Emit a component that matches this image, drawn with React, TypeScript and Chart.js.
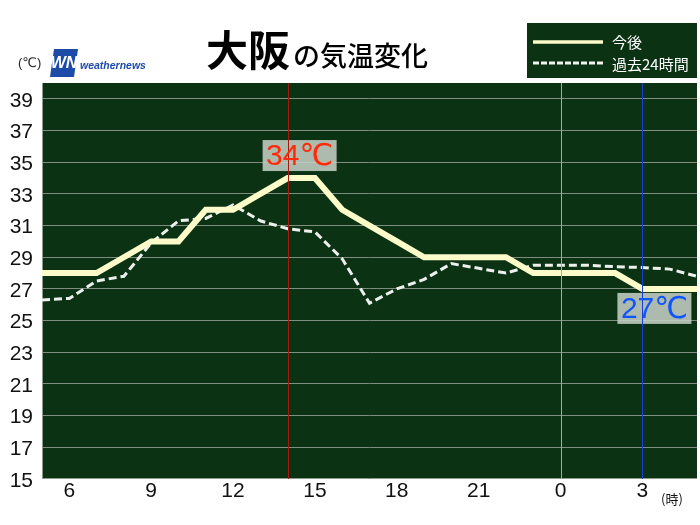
import { useEffect, useRef } from "react";
import { Chart, registerables } from "chart.js";

Chart.register(...registerables);

// ---- data ----
const hours = [5, 6, 7, 8, 9, 10, 11, 12, 13, 14, 15, 16, 17, 18, 19, 20, 21, 22, 23, 24, 25, 26, 27, 28, 29];
const forecastTemps = [28, 28, 28, 29, 30, 30, 32, 32, 33, 34, 34, 32, 31, 30, 29, 29, 29, 29, 28, 28, 28, 28, 27, 27, 27];
const pastTemps = [26.3, 26.4, 27.5, 27.8, 29.9, 31.3, 31.45, 32.3, 31.3, 30.8, 30.6, 28.9, 26.1, 27.0, 27.6, 28.6, 28.3, 28.0, 28.5, 28.5, 28.5, 28.4, 28.35, 28.25, 27.8];
const xTickHours = [6, 9, 12, 15, 18, 21, 24, 27];
const xTickLabels = ["6", "9", "12", "15", "18", "21", "0", "3"];
const yTickValues = [15, 17, 19, 21, 23, 25, 27, 29, 31, 33, 35, 37, 39];
const seriesNames = ["今後", "過去24時間"];
const cityName = "大阪";
const titleRest = "の気温変化";
const maxMark = { hour: 14, temp: 34, text: "34℃" };
const minMark = { hour: 27, temp: 27, text: "27℃" };
const zeroHour = 24;

const GREEN = "#0b3313";
const GRID = "#7f8c7f";
const CREAM = "#fdfbc9";
const LATIN = '"Liberation Sans", Arial, sans-serif';
const CJK = '"Noto Sans CJK JP", "Liberation Sans", sans-serif';
const MIXED = '"Liberation Sans", "DejaVu Sans", "Noto Sans CJK JP", sans-serif';

const decor = {
  id: "decor",
  beforeDraw(chart: any) {
    const { ctx, chartArea: a } = chart;
    ctx.save();
    ctx.fillStyle = "#ffffff";
    ctx.fillRect(0, 0, chart.width, chart.height);
    ctx.fillStyle = GREEN;
    ctx.fillRect(a.left, a.top, a.right - a.left, a.bottom - a.top);
    ctx.restore();
  },
  beforeDatasetsDraw(chart: any) {
    const { ctx, chartArea: a } = chart;
    ctx.save();
    ctx.strokeStyle = "#8d998d";
    ctx.lineWidth = 1;
    ctx.beginPath();
    ctx.moveTo(a.left + 0.5, a.top);
    ctx.lineTo(a.left + 0.5, a.bottom);
    ctx.moveTo(a.left, a.bottom - 0.5);
    ctx.lineTo(a.right, a.bottom - 0.5);
    ctx.stroke();
    ctx.restore();
  },
  afterDatasetsDraw(chart: any) {
    const { ctx, chartArea: a, scales } = chart;
    const xs = scales.x;
    const ys = scales.y;
    const bw = 74;
    const bh = 31;
    const mx = xs.getPixelForValue(maxMark.hour) - 25;
    const my = ys.getPixelForValue(maxMark.temp) - 7 - bh;
    const nx = xs.getPixelForValue(minMark.hour) - 25;
    const ny = ys.getPixelForValue(minMark.temp) + 4;
    ctx.save();
    ctx.fillStyle = "rgba(200,208,200,0.86)";
    ctx.fillRect(mx, my, bw, bh);
    ctx.fillRect(nx, ny, bw, bh);
    const vline = (h: number, color: string) => {
      const px = Math.round(xs.getPixelForValue(h)) + 0.5;
      ctx.strokeStyle = color;
      ctx.lineWidth = 1;
      ctx.beginPath();
      ctx.moveTo(px, a.top);
      ctx.lineTo(px, a.bottom);
      ctx.stroke();
    };
    vline(maxMark.hour, "#a8180f");
    vline(zeroHour, "#a3ada3");
    vline(minMark.hour, "#1b3fd6");
    ctx.font = "30px " + MIXED;
    ctx.textAlign = "center";
    ctx.textBaseline = "middle";
    ctx.fillStyle = "#ff2a08";
    ctx.fillText(maxMark.text, mx + bw / 2, my + bh / 2 + 1);
    ctx.fillStyle = "#0f55ff";
    ctx.fillText(minMark.text, nx + bw / 2, ny + bh / 2 + 1);
    ctx.restore();
  },
  afterDraw(chart: any) {
    const { ctx } = chart;
    ctx.save();
    ctx.fillStyle = "#000";
    ctx.textBaseline = "middle";
    ctx.textAlign = "left";
    ctx.font = "bold 42px " + CJK;
    ctx.fillText(cityName, 206, 50);
    ctx.font = "500 27px " + CJK;
    ctx.fillText(titleRest, 293, 56);
    ctx.font = "13px " + MIXED;
    ctx.fillStyle = "#222";
    ctx.fillText("(℃)", 18, 63);
    ctx.fillStyle = "#1d4ca8";
    ctx.beginPath();
    ctx.moveTo(54, 49);
    ctx.lineTo(78, 49);
    ctx.lineTo(74, 77);
    ctx.lineTo(50, 77);
    ctx.closePath();
    ctx.fill();
    ctx.fillStyle = "#fff";
    ctx.font = "italic bold 16px " + LATIN;
    ctx.textAlign = "center";
    ctx.fillText("WN", 64, 64);
    ctx.fillStyle = "#1d4ca8";
    ctx.textAlign = "left";
    ctx.font = "italic bold 10.5px " + LATIN;
    ctx.fillText("weathernews", 80, 66);
    ctx.fillStyle = GREEN;
    ctx.fillRect(527, 23, 170, 55);
    ctx.lineWidth = 3.5;
    ctx.strokeStyle = CREAM;
    ctx.beginPath();
    ctx.moveTo(533, 42);
    ctx.lineTo(603, 42);
    ctx.stroke();
    ctx.lineWidth = 3;
    ctx.strokeStyle = "#f2f2f2";
    ctx.setLineDash([6, 2]);
    ctx.beginPath();
    ctx.moveTo(533, 63);
    ctx.lineTo(603, 63);
    ctx.stroke();
    ctx.setLineDash([]);
    ctx.fillStyle = "#fff";
    ctx.font = "15px " + CJK;
    ctx.fillText(seriesNames[0], 612, 42);
    ctx.fillText(seriesNames[1], 612, 64);
    ctx.fillStyle = "#111";
    ctx.font = "13px " + CJK;
    ctx.fillText("(時)", 661, 499);
    ctx.restore();
  },
};

export default function App() {
  const ref = useRef<HTMLCanvasElement | null>(null);
  useEffect(() => {
    if (!ref.current) return;
    const chart = new Chart(ref.current, {
      type: "line",
      data: {
        datasets: [
          {
            label: seriesNames[0],
            data: hours.map((h, i) => ({ x: h, y: forecastTemps[i] })),
            borderColor: CREAM,
            borderWidth: 6,
            pointRadius: 0,
            tension: 0,
            borderJoinStyle: "miter",
            order: 0,
          },
          {
            label: seriesNames[1],
            data: hours.map((h, i) => ({ x: h, y: pastTemps[i] })),
            borderColor: "#eef0ee",
            borderWidth: 3,
            borderDash: [8, 4],
            pointRadius: 0,
            tension: 0,
            order: 1,
          },
        ],
      },
      options: {
        animation: false,
        responsive: false,
        maintainAspectRatio: false,
        devicePixelRatio: 1,
        layout: { padding: { top: 83, right: 3, left: 0, bottom: 0 } },
        plugins: { legend: { display: false }, tooltip: { enabled: false }, title: { display: false } },
        scales: {
          x: {
            type: "linear",
            min: 5,
            max: 29,
            afterFit: (s: any) => {
              s.height = 46;
            },
            afterBuildTicks: (s: any) => {
              s.ticks = xTickHours.map((v) => ({ value: v }));
            },
            ticks: {
              autoSkip: false,
              maxRotation: 0,
              padding: 0,
              color: "#111",
              font: { family: LATIN, size: 21 },
              callback: (_v: any, i: number) => xTickLabels[i],
            },
            grid: { display: false, drawTicks: false },
            border: { display: false },
          },
          y: {
            type: "linear",
            min: 15,
            max: 40,
            afterFit: (s: any) => {
              s.width = 42;
            },
            afterBuildTicks: (s: any) => {
              s.ticks = yTickValues.map((v) => ({ value: v }));
            },
            ticks: {
              padding: 9,
              labelOffset: 2,
              color: "#111",
              font: { family: LATIN, size: 21 },
              callback: (v: any) => String(v),
            },
            grid: {
              drawTicks: false,
              color: (c: any) => (c.tick && c.tick.value === 15 ? "rgba(0,0,0,0)" : GRID),
              lineWidth: 1,
            },
            border: { display: false },
          },
        },
      },
      plugins: [decor],
    } as any);
    return () => chart.destroy();
  }, []);
  return (
    <div style={{ position: "absolute", left: 0, top: 0, width: 700, height: 525, background: "#fff" }}>
      <canvas ref={ref} width={700} height={525} style={{ display: "block", width: 700, height: 525 }} />
    </div>
  );
}
